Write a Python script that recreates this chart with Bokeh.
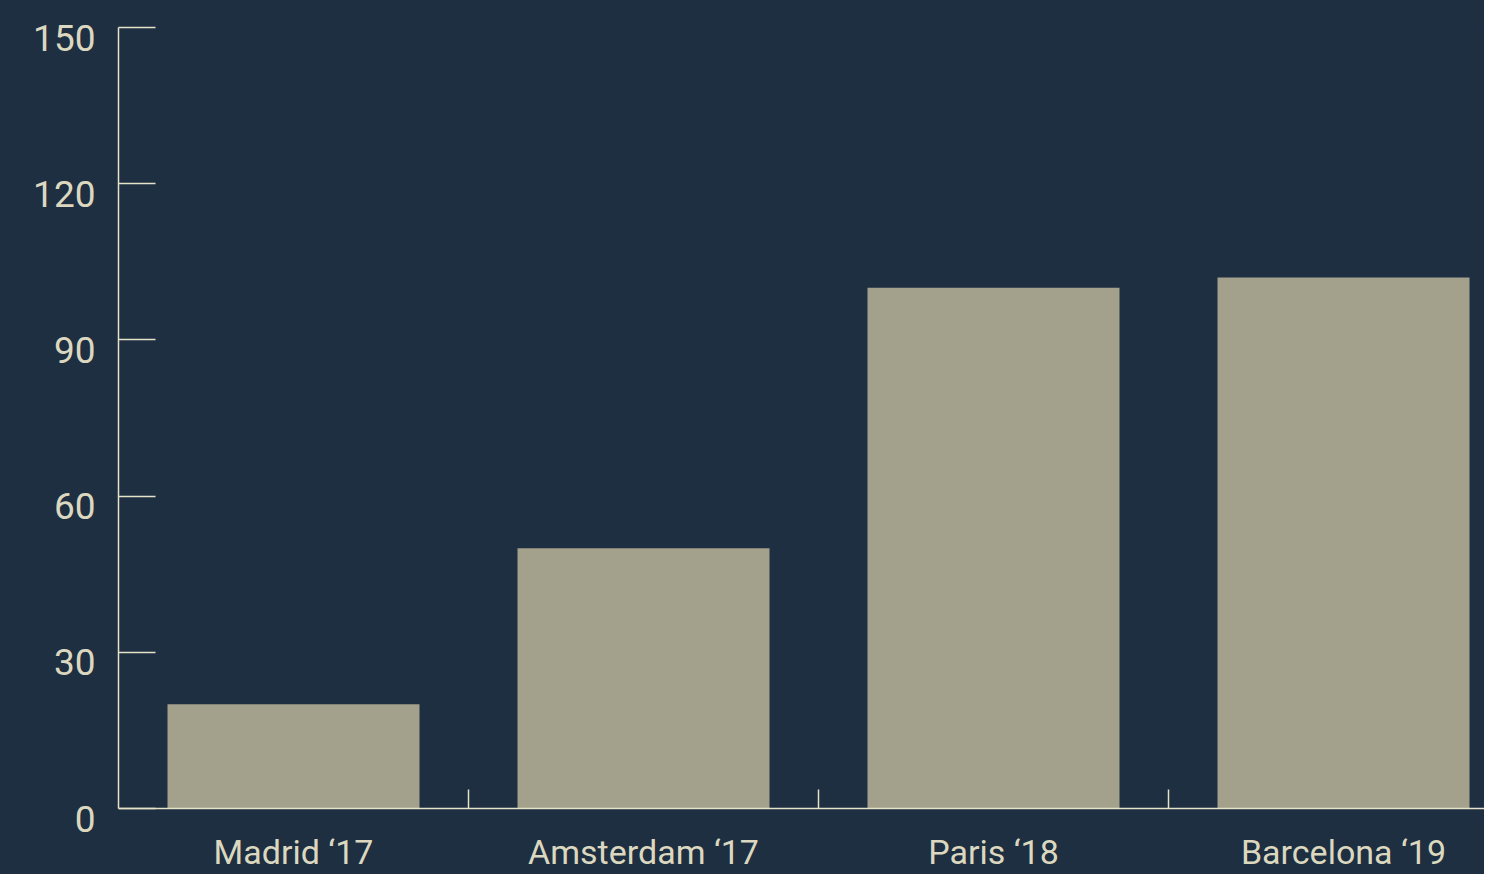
from bokeh.plotting import figure
from bokeh.models import Range1d, FixedTicker, LinearAxis
from bokeh.embed import file_html
from bokeh.resources import INLINE

categories = ["Madrid \u201817", "Amsterdam \u201817", "Paris \u201818", "Barcelona \u201819"]
values = [20, 50, 100, 102]
y_ticks = [0, 30, 60, 90, 120, 150]

BG = "#1e2f42"
BAR = "#a3a08c"
AXIS = "#e6e2c8"
LABEL = "#dcd8bf"

W, H = 1484, 871
LEFT, TOP = 118, 27
DATA_PX = 781          # pixels from value 0 to value 150
BELOW_ZERO_PX = 10     # frame continues a little under the zero line
BOTTOM = H - TOP - DATA_PX - BELOW_ZERO_PX
CAT_PX = 350
Y_MAX = 150
frame_w = W - LEFT
frame_h = DATA_PX + BELOW_ZERO_PX
ppu = DATA_PX / Y_MAX
y_min = -BELOW_ZERO_PX / ppu

centers = [i + 0.5 for i in range(len(categories))]
boundaries = [i for i in range(1, len(categories))]

p = figure(width=W, height=H, output_backend="svg", toolbar_location=None,
           x_range=Range1d(0, frame_w / CAT_PX), y_range=Range1d(y_min, Y_MAX),
           frame_width=frame_w, frame_height=frame_h)
p.min_border_left = LEFT
p.min_border_right = 0
p.min_border_top = TOP
p.min_border_bottom = BOTTOM
p.background_fill_color = BG
p.border_fill_color = BG
p.outline_line_color = None
p.grid.visible = False
p.styles = {"background-color": BG}

p.vbar(x=centers, top=values, width=0.72, bottom=0, color=BAR, line_color=None)

# x baseline at value 0 with upward ticks at category boundaries
xa = p.xaxis[0]
xa.fixed_location = 0
xa.ticker = FixedTicker(ticks=[], minor_ticks=boundaries)
xa.major_label_standoff = 0
xa.major_tick_in = 0
xa.major_tick_out = 0
xa.minor_tick_in = 19
xa.minor_tick_out = 0
xa.minor_tick_line_color = AXIS
xa.minor_tick_line_width = 1.5
xa.axis_line_color = AXIS
xa.axis_line_width = 1.5

# x category labels
xl = LinearAxis(ticker=FixedTicker(ticks=centers, minor_ticks=[]))
xl.major_label_overrides = {c: lab for c, lab in zip(centers, categories)}
xl.axis_line_color = None
xl.major_tick_line_color = None
xl.minor_tick_line_color = None
xl.major_tick_in = 0
xl.major_tick_out = 0
xl.major_label_standoff = 13
xl.major_label_text_color = LABEL
xl.major_label_text_font = "Roboto"
xl.major_label_text_font_size = "34px"
p.add_layout(xl, "below")

# y axis line with inward ticks
ya = p.yaxis[0]
ya.bounds = (0, Y_MAX)
ya.ticker = FixedTicker(ticks=[], minor_ticks=y_ticks)
ya.major_label_standoff = 0
ya.major_tick_in = 0
ya.major_tick_out = 0
ya.minor_tick_in = 37
ya.minor_tick_out = 0
ya.minor_tick_line_color = AXIS
ya.minor_tick_line_width = 1.5
ya.axis_line_color = AXIS
ya.axis_line_width = 1.5

# y labels, sitting a little below their ticks as in the reference
p.extra_y_ranges = {"lab": Range1d(y_min + BELOW_ZERO_PX / ppu, Y_MAX + BELOW_ZERO_PX / ppu)}
yl = LinearAxis(y_range_name="lab", ticker=FixedTicker(ticks=y_ticks, minor_ticks=[]))
yl.axis_line_color = None
yl.major_tick_line_color = None
yl.minor_tick_line_color = None
yl.major_tick_in = 0
yl.major_tick_out = 0
yl.major_label_standoff = 23
yl.major_label_text_color = LABEL
yl.major_label_text_font = "Roboto"
yl.major_label_text_font_size = "37px"
p.add_layout(yl, "left")

open("out.html", "w").write(file_html(p, INLINE))
